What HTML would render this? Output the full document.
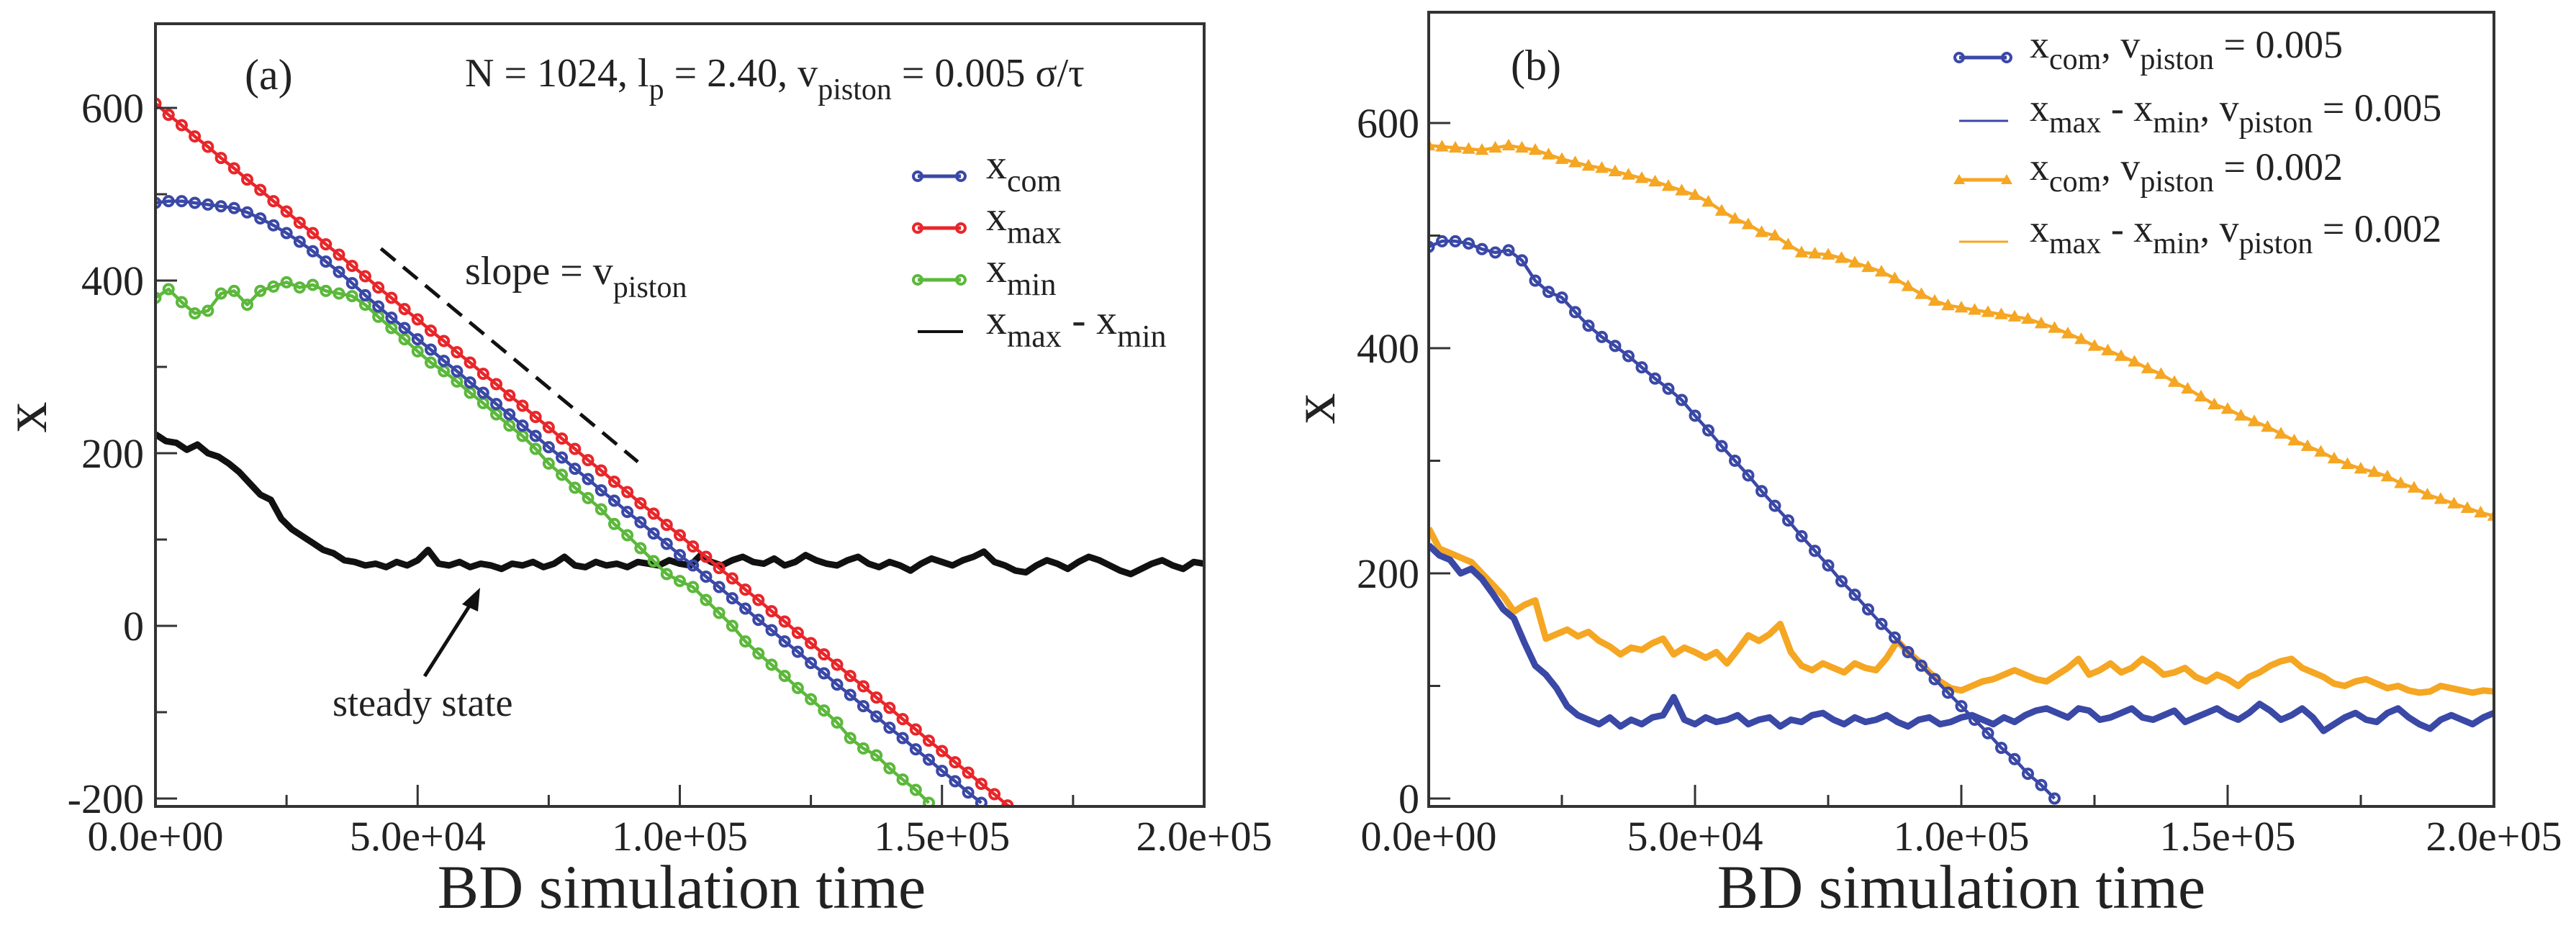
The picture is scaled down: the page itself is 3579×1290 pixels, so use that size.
<!DOCTYPE html>
<html><head><meta charset="utf-8">
<style>
html,body{margin:0;padding:0;background:#fff;}
svg, svg text, svg tspan{font-family:"Liberation Serif","Times New Roman","DejaVu Serif",serif !important;}
</style></head>
<body>
<svg id="fig" width="3579" height="1285" viewBox="0 0 3579 1285" xmlns="http://www.w3.org/2000/svg" font-family="Liberation Serif, Times New Roman, serif">
<defs>
<clipPath id="clipA"><rect x="216" y="33" width="1457" height="1088"/></clipPath>
<clipPath id="clipB"><rect x="1985" y="17" width="1480" height="1104"/></clipPath>
</defs>
<g id="panelA"></g>
<g id="panelB"></g>
</svg>
<script>
// ---------- Panel (a) data ----------
const stepA = 2500;
const aXmax = [605,592,580,567,555,542,530,517,505,492,480,467,455,442,430,417,405,392,380,367,355,342,330,317,305,292,280,267,255,242,230,217,205,192,180,167,155,142,130,117,105,92,80,67,55,42,30,17,5,-8,-20,-33,-45,-58,-70,-83,-95,-108,-120,-133,-145,-158,-170,-183,-195,-208,-215];
const aXcom = [490,492,492,490,488,486,484,479,472,464,455,445,434,422,410,397,383,370,357,345,332,320,307,295,282,270,257,245,232,220,207,195,182,170,157,145,132,120,107,95,82,70,57,45,32,20,7,-5,-18,-30,-43,-55,-68,-80,-93,-105,-118,-130,-143,-155,-168,-180,-193,-205];
const aXmin = [380,390,375,362,365,385,388,372,388,393,398,392,395,388,385,382,372,358,345,332,318,305,295,283,270,258,245,232,220,205,188,175,160,148,135,118,105,90,75,60,52,45,30,15,0,-18,-32,-45,-58,-72,-85,-98,-112,-130,-142,-150,-165,-178,-190,-205];
const stepNoise = 2000;
const aSpread = [222,214,212,204,210,200,196,188,178,165,152,146,124,112,104,96,88,84,76,74,70,72,68,74,70,76,88,72,70,74,68,72,70,66,72,70,74,68,72,80,70,68,74,70,72,68,74,72,70,76,72,70,82,74,70,76,80,74,72,78,70,74,82,76,72,70,76,80,72,68,74,70,64,72,78,74,70,76,80,86,74,70,64,62,70,76,72,66,74,80,76,70,64,60,66,72,76,70,66,74,72];
const aYTicks = [-200,0,200,400,600];
const xTicks = [0,50000,100000,150000,200000];
const xTickLabels = ["0.0e+00","5.0e+04","1.0e+05","1.5e+05","2.0e+05"];
const aSlope = [[43000,437],[92000,190]];

// ---------- Panel (b) data ----------
const bCom5 = [490,495,495,493,488,485,487,478,460,450,445,432,420,410,402,393,383,373,364,354,340,327,313,300,287,273,260,247,233,220,207,193,181,168,155,143,130,118,106,94,82,70,58,45,35,22,12,0];
const stepB2 = 2500;
const bCom2 = [580,579,578,577,576,578,580,578,576,572,568,565,562,560,557,554,551,548,544,540,536,530,522,515,510,503,500,492,485,484,483,480,476,472,468,462,455,448,442,438,436,434,432,430,428,426,422,418,413,408,402,398,393,388,382,377,370,364,357,350,346,340,335,330,324,318,313,308,302,297,293,290,286,280,276,270,266,262,258,254,251];
const bSpread5 = [225,216,212,200,204,195,182,168,160,138,118,110,98,82,74,70,66,72,64,70,66,72,74,90,70,66,72,68,70,74,66,70,72,64,70,68,74,76,70,66,72,68,70,74,68,64,70,72,66,68,72,74,70,66,72,68,74,78,80,76,72,80,78,70,72,76,80,72,70,74,78,68,72,76,80,74,70,76,84,78,70,74,80,72,60,66,72,76,70,68,76,80,72,66,62,70,74,70,66,72,76];
const bSpread2 = [240,222,218,214,210,200,190,180,166,172,176,142,146,150,144,148,140,135,128,134,132,138,142,128,134,130,125,130,120,132,145,140,146,155,130,118,114,120,116,112,120,116,114,125,140,130,122,112,104,98,96,100,104,106,110,114,110,106,104,110,116,124,110,114,120,112,116,124,118,110,112,116,108,104,110,106,100,108,112,118,122,124,116,112,108,102,100,104,106,102,98,100,96,94,95,100,98,96,94,96,95];
const bYTicks = [0,200,400,600];

// ---------- scales ----------
function lin(d0,d1,r0,r1){return v=>r0+(v-d0)*(r1-r0)/(d1-d0);}
const axA = lin(0,200000,216,1673), ayA = lin(-200,600,1110,150);
const axB = lin(0,200000,1985,3465), ayB = lin(0,600,1110,171);
const NS="http://www.w3.org/2000/svg";
const FONT="Liberation Serif, Times New Roman, serif";
function mk(parent,tag,attrs){const e=document.createElementNS(NS,tag);for(const k in attrs)e.setAttribute(k,attrs[k]);parent.appendChild(e);return e;}

function polyline(parent,vals,step,ax,ay,color,w,clip){
  let d="";vals.forEach((v,i)=>{d+=(i?"L":"M")+ax(i*step).toFixed(1)+","+ay(v).toFixed(1);});
  return mk(parent,"path",{d:d,fill:"none",stroke:color,"stroke-width":w,"stroke-linejoin":"round","clip-path":clip});
}
function circles(parent,vals,step,ax,ay,color,clip){
  const g=mk(parent,"g",{"clip-path":clip});
  vals.forEach((v,i)=>{mk(g,"circle",{cx:ax(i*step),cy:ay(v),r:6.5,fill:"none",stroke:color,"stroke-width":4});});
  return g;
}
function tris(parent,vals,step,ax,ay,color,clip){
  const g=mk(parent,"g",{"clip-path":clip});
  vals.forEach((v,i)=>{const x=ax(i*step),y=ay(v);mk(g,"path",{d:`M${x-8},${y+6}L${x+8},${y+6}L${x},${y-8}Z`,fill:color,stroke:color,"stroke-width":1.5});});
  return g;
}
function axes(parent,x0,x1,y0,y1,ax,ay,yTicks,yMinorStep,labelXRight){
  const g=mk(parent,"g",{});
  
  
  mk(g,"rect",{x:x0,y:y0,width:x1-x0,height:y1-y0,fill:"none",stroke:"#333","stroke-width":4});
  xTicks.forEach((t,i)=>{
    const x=ax(t);
    mk(g,"line",{x1:x,x2:x,y1:y1,y2:y1-30,stroke:"#333","stroke-width":3});
    const tx=mk(g,"text",{x:x,y:1182,"font-size":58,"text-anchor":"middle",fill:"#222","font-family":FONT});
    tx.textContent=xTickLabels[i];
    
    
    if(i<xTicks.length-1){const m=ax(t+25000);mk(g,"line",{x1:m,x2:m,y1:y1,y2:y1-16,stroke:"#333","stroke-width":3});}
  });
  yTicks.forEach((v,i)=>{
    const y=ay(v);
    mk(g,"line",{x1:x0,x2:x0+30,y1:y,y2:y,stroke:"#333","stroke-width":3});
    const tx=mk(g,"text",{x:labelXRight,y:y+20,"font-size":58,"text-anchor":"end",fill:"#222","font-family":FONT});
    tx.textContent=String(v);
    
    
    const m=ay(v+yMinorStep);
    if(m>y0) mk(g,"line",{x1:x0,x2:x0+16,y1:m,y2:m,stroke:"#333","stroke-width":3});
  });
}

// ---------- Panel A ----------
const A=document.getElementById("panelA");
const sp=polyline(A,aSpread,stepNoise,axA,ayA,"#111",9,"url(#clipA)");


const gl=polyline(A,aXmin,stepA,axA,ayA,"#5cb83c",4.5,"url(#clipA)");


const gm=circles(A,aXmin,stepA,axA,ayA,"#5cb83c","url(#clipA)");


const bl=polyline(A,aXcom,stepA,axA,ayA,"#3a48a6",4.5,"url(#clipA)");


const bm=circles(A,aXcom,stepA,axA,ayA,"#3a48a6","url(#clipA)");


const rl=polyline(A,aXmax,stepA,axA,ayA,"#e8262a",4.5,"url(#clipA)");


const rm=circles(A,aXmax,stepA,axA,ayA,"#e8262a","url(#clipA)");


const sl=mk(A,"line",{x1:axA(aSlope[0][0]),y1:ayA(aSlope[0][1]),x2:axA(aSlope[1][0]),y2:ayA(aSlope[1][1]),stroke:"#111","stroke-width":5,"stroke-dasharray":"26,14"});


axes(A,216,1673,33,1121,axA,ayA,aYTicks,100,200);

// ---------- Panel B ----------
const B=document.getElementById("panelB");
const o2=polyline(B,bSpread2,stepNoise,axB,ayB,"#f5a623",9,"url(#clipB)");


const b5=polyline(B,bSpread5,stepNoise,axB,ayB,"#3a48a6",9,"url(#clipB)");


const oc=polyline(B,bCom2,stepB2,axB,ayB,"#f5a623",4.5,"url(#clipB)");


const om=tris(B,bCom2,stepB2,axB,ayB,"#f5a623","url(#clipB)");


const bc=polyline(B,bCom5,stepA,axB,ayB,"#3a48a6",4.5,"url(#clipB)");


const bcm=circles(B,bCom5,stepA,axB,ayB,"#3a48a6","url(#clipB)");


axes(B,1985,3465,17,1121,axB,ayB,bYTicks,100,1972);
</script>
<script>
// static text overlays
const F=document.getElementById("fig");
F.insertAdjacentHTML("beforeend",`
<g fill="#222" font-family="Liberation Serif, Times New Roman, serif">
 <text x="340" y="124" font-size="60">(a)</text>
 <text x="646" y="120" font-size="56">N = 1024, l<tspan font-size="42" dy="18">p</tspan><tspan dy="-18"> = 2.40, v</tspan><tspan font-size="42" dy="18">piston</tspan><tspan dy="-18"> = 0.005 σ/τ</tspan></text>
 <text x="646" y="395" font-size="56">slope = v<tspan font-size="42" dy="18">piston</tspan></text>
 <text x="462" y="995" font-size="54">steady state</text>
 <g><line x1="590" y1="940" x2="660" y2="830" stroke="#111" stroke-width="5"/><path d="M667,817 L642,840 L664,850 Z" fill="#111"/></g>
 <text x="947" y="1262" font-size="86" text-anchor="middle">BD simulation time</text>
 <text transform="translate(64,580) rotate(-90)" font-size="86" text-anchor="middle">x</text>
 <g>
  <g><line x1="1275" x2="1335" y1="245" y2="245" stroke="#3a48a6" stroke-width="5"/><circle cx="1275" cy="245" r="6" fill="none" stroke="#3a48a6" stroke-width="4"/><circle cx="1335" cy="245" r="6" fill="none" stroke="#3a48a6" stroke-width="4"/><text x="1370" y="248" font-size="58">x<tspan font-size="44" dy="18">com</tspan></text></g>
  <g><line x1="1275" x2="1335" y1="317" y2="317" stroke="#e8262a" stroke-width="5"/><circle cx="1275" cy="317" r="6" fill="none" stroke="#e8262a" stroke-width="4"/><circle cx="1335" cy="317" r="6" fill="none" stroke="#e8262a" stroke-width="4"/><text x="1370" y="320" font-size="58">x<tspan font-size="44" dy="18">max</tspan></text></g>
  <g><line x1="1275" x2="1335" y1="389" y2="389" stroke="#5cb83c" stroke-width="5"/><circle cx="1275" cy="389" r="6" fill="none" stroke="#5cb83c" stroke-width="4"/><circle cx="1335" cy="389" r="6" fill="none" stroke="#5cb83c" stroke-width="4"/><text x="1370" y="392" font-size="58">x<tspan font-size="44" dy="18">min</tspan></text></g>
  <g><line x1="1275" x2="1338" y1="461" y2="461" stroke="#111" stroke-width="4"/><text x="1370" y="464" font-size="58">x<tspan font-size="44" dy="18">max</tspan><tspan dy="-18"> - x</tspan><tspan font-size="44" dy="18">min</tspan></text></g>
 </g>
</g>
<g fill="#222" font-family="Liberation Serif, Times New Roman, serif">
 <text x="2099" y="111" font-size="60">(b)</text>
 <text x="2725" y="1262" font-size="86" text-anchor="middle">BD simulation time</text>
 <text transform="translate(1854,568) rotate(-90)" font-size="86" text-anchor="middle">x</text>
 <g>
  <g><line x1="2722" x2="2788" y1="80" y2="80" stroke="#3a48a6" stroke-width="5"/><circle cx="2722" cy="80" r="6" fill="none" stroke="#3a48a6" stroke-width="4"/><circle cx="2788" cy="80" r="6" fill="none" stroke="#3a48a6" stroke-width="4"/><text x="2820" y="80" font-size="54">x<tspan font-size="42" dy="16">com</tspan><tspan dy="-16">, v</tspan><tspan font-size="42" dy="16">piston</tspan><tspan dy="-16"> = 0.005</tspan></text></g>
  <g><line x1="2722" x2="2790" y1="168" y2="168" stroke="#3a48a6" stroke-width="3"/><text x="2820" y="168" font-size="54">x<tspan font-size="42" dy="16">max</tspan><tspan dy="-16"> - x</tspan><tspan font-size="42" dy="16">min</tspan><tspan dy="-16">, v</tspan><tspan font-size="42" dy="16">piston</tspan><tspan dy="-16"> = 0.005</tspan></text></g>
  <g><line x1="2722" x2="2788" y1="250" y2="250" stroke="#f5a623" stroke-width="5"/><path d="M2714,256L2730,256L2722,242Z" fill="#f5a623"/><path d="M2780,256L2796,256L2788,242Z" fill="#f5a623"/><text x="2820" y="250" font-size="54">x<tspan font-size="42" dy="16">com</tspan><tspan dy="-16">, v</tspan><tspan font-size="42" dy="16">piston</tspan><tspan dy="-16"> = 0.002</tspan></text></g>
  <g><line x1="2722" x2="2790" y1="336" y2="336" stroke="#f5a623" stroke-width="3"/><text x="2820" y="336" font-size="54">x<tspan font-size="42" dy="16">max</tspan><tspan dy="-16"> - x</tspan><tspan font-size="42" dy="16">min</tspan><tspan dy="-16">, v</tspan><tspan font-size="42" dy="16">piston</tspan><tspan dy="-16"> = 0.002</tspan></text></g>
 </g>
</g>`);
</script>
</body></html>
